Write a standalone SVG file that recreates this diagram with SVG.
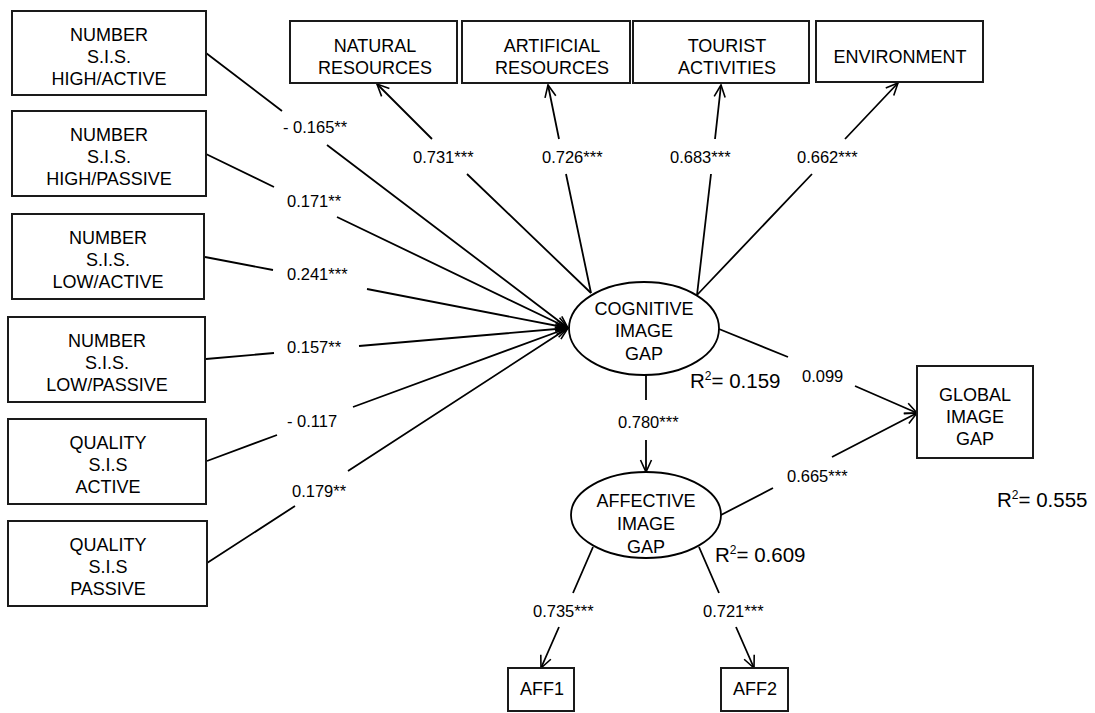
<svg xmlns="http://www.w3.org/2000/svg" width="1095" height="713" viewBox="0 0 1095 713">
<defs>
<marker id="arr" viewBox="0 0 12 12" refX="12" refY="6" markerWidth="12" markerHeight="12" markerUnits="userSpaceOnUse" orient="auto" overflow="visible">
<path d="M0,0.5 L12,6 L0,11.5" fill="none" stroke="#000" stroke-width="1.6"/>
</marker>
</defs>
<style>
.box{fill:#fff;stroke:#1a1a1a;stroke-width:2}
.ell{fill:#fff;stroke:#000;stroke-width:1.8}
.t{font-family:"Liberation Sans",Arial,sans-serif;font-size:18px;fill:#000;text-anchor:middle}
.lb{font-family:"Liberation Sans",Arial,sans-serif;font-size:16.5px;fill:#000}
.r2{font-family:"Liberation Sans",Arial,sans-serif;font-size:20.5px;fill:#000}
.c{fill:none;stroke:#000;stroke-width:1.8;marker-end:url(#arr)}
</style>
<rect width="1095" height="713" fill="#fff"/>
<g id="connectors">
<path class="c" d="M206,53 L282,111 M327,145 L568,328"/>
<path class="c" d="M206,154 L274,187 M337,217 L568,328"/>
<path class="c" d="M205,257 L273,270 M367,289 L568,328"/>
<path class="c" d="M206,359 L274,353 M359,346 L568,328"/>
<path class="c" d="M207,461 L277,435 M353,407 L568,328"/>
<path class="c" d="M207,563 L295,506 M348,471 L568,328"/>
<path class="c" d="M591,293 L467,174 M432,139 L377,84"/>
<path class="c" d="M591,293 L566,174 M559,139 L548,85"/>
<path class="c" d="M697,295 L711,174 M715,139 L721,85"/>
<path class="c" d="M697,295 L812,174 M845,139 L898,83"/>
<path class="c" d="M719,329 L788,357 M855,386 L917,413"/>
<path class="c" d="M721,515 L773,488 M832,457 L917,413"/>
<path class="c" d="M646,375 L646,400 M646,440 L646,472"/>
<path class="c" d="M593,547 L573,593 M559,627 L541,668"/>
<path class="c" d="M699,547 L719,593 M736,627 L754,668"/>
</g>
<g id="labels">
<text class="lb" x="283" y="133">- 0.165**</text>
<text class="lb" x="287" y="207">0.171**</text>
<text class="lb" x="287" y="280">0.241***</text>
<text class="lb" x="287" y="353">0.157**</text>
<text class="lb" x="287" y="427">- 0.117</text>
<text class="lb" x="292" y="497">0.179**</text>
<text class="lb" x="413" y="163">0.731***</text>
<text class="lb" x="542" y="163">0.726***</text>
<text class="lb" x="670" y="163">0.683***</text>
<text class="lb" x="797" y="163">0.662***</text>
<text class="lb" x="802" y="382">0.099</text>
<text class="lb" x="787" y="482">0.665***</text>
<text class="lb" x="618" y="428">0.780***</text>
<text class="lb" x="533" y="617">0.735***</text>
<text class="lb" x="703" y="617">0.721***</text>
<text class="r2" x="690" y="388">R<tspan font-size="12" dy="-8">2</tspan><tspan dy="8">= 0.159</tspan></text>
<text class="r2" x="715" y="562">R<tspan font-size="12" dy="-8">2</tspan><tspan dy="8">= 0.609</tspan></text>
<text class="r2" x="997" y="507">R<tspan font-size="12" dy="-8">2</tspan><tspan dy="8">= 0.555</tspan></text>
</g>
<g id="n1"><rect class="box" x="12" y="11" width="194" height="84"/><text class="t" x="109" y="41">NUMBER</text><text class="t" x="109" y="63">S.I.S.</text><text class="t" x="109" y="85">HIGH/ACTIVE</text></g>
<g id="n2"><rect class="box" x="12" y="111" width="194" height="85"/><text class="t" x="109" y="141">NUMBER</text><text class="t" x="109" y="163">S.I.S.</text><text class="t" x="109" y="185">HIGH/PASSIVE</text></g>
<g id="n3"><rect class="box" x="12" y="214" width="192" height="85"/><text class="t" x="108" y="244">NUMBER</text><text class="t" x="108" y="266">S.I.S.</text><text class="t" x="108" y="288">LOW/ACTIVE</text></g>
<g id="n4"><rect class="box" x="8" y="317" width="197" height="85"/><text class="t" x="107" y="347">NUMBER</text><text class="t" x="107" y="369">S.I.S.</text><text class="t" x="107" y="391">LOW/PASSIVE</text></g>
<g id="n5"><rect class="box" x="8" y="419" width="198" height="85"/><text class="t" x="108" y="449">QUALITY</text><text class="t" x="108" y="471">S.I.S</text><text class="t" x="108" y="493">ACTIVE</text></g>
<g id="n6"><rect class="box" x="8" y="521" width="199" height="85"/><text class="t" x="108" y="551">QUALITY</text><text class="t" x="108" y="573">S.I.S</text><text class="t" x="108" y="595">PASSIVE</text></g>
<g id="natural"><rect class="box" x="290" y="21" width="167" height="62"/><text class="t" x="375" y="52">NATURAL</text><text class="t" x="375" y="74">RESOURCES</text></g>
<g id="artificial"><rect class="box" x="462" y="21" width="168" height="62"/><text class="t" x="552" y="52">ARTIFICIAL</text><text class="t" x="552" y="74">RESOURCES</text></g>
<g id="tourist"><rect class="box" x="633" y="21" width="176" height="62"/><text class="t" x="727" y="52">TOURIST</text><text class="t" x="727" y="74">ACTIVITIES</text></g>
<g id="environment"><rect class="box" x="816" y="21" width="167" height="61"/><text class="t" x="900" y="63">ENVIRONMENT</text></g>
<g id="cognitive"><ellipse class="ell" cx="644" cy="328.5" rx="75" ry="46.5"/><text class="t" x="644" y="315">COGNITIVE</text><text class="t" x="644" y="337">IMAGE</text><text class="t" x="644" y="360">GAP</text></g>
<g id="affective"><ellipse class="ell" cx="646" cy="515" rx="75" ry="43"/><text class="t" x="646" y="507">AFFECTIVE</text><text class="t" x="646" y="530">IMAGE</text><text class="t" x="646" y="553">GAP</text></g>
<g id="global"><rect class="box" x="917" y="366" width="116" height="92"/><text class="t" x="975" y="401">GLOBAL</text><text class="t" x="975" y="423">IMAGE</text><text class="t" x="975" y="445">GAP</text></g>
<g id="aff1"><rect class="box" x="508" y="668" width="66" height="43"/><text class="t" x="542" y="695">AFF1</text></g>
<g id="aff2"><rect class="box" x="721" y="668" width="67" height="43"/><text class="t" x="755" y="695">AFF2</text></g>
</svg>
